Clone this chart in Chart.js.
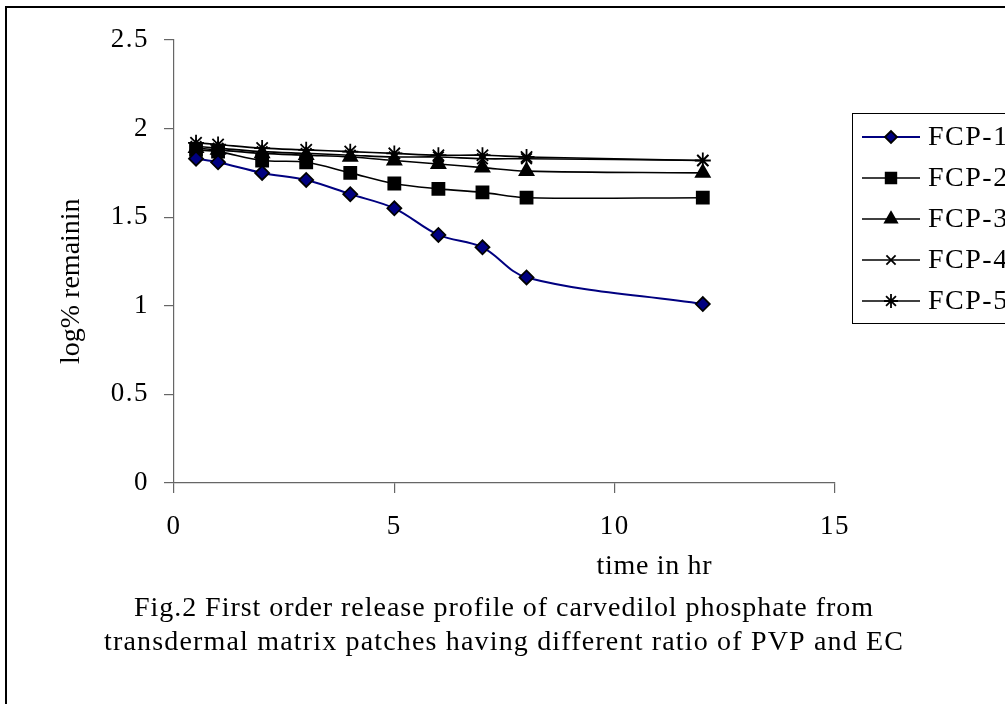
<!DOCTYPE html>
<html>
<head>
<meta charset="utf-8">
<title>First order release profile</title>
<script src="https://cdn.jsdelivr.net/npm/chart.js"></script>
<style>
  html, body { margin: 0; padding: 0; background: #fff; }
  #wrap { width: 1005px; height: 704px; position: relative; overflow: hidden; }
</style>
</head>
<body>
<div id="wrap"><canvas id="releaseChart" width="1005" height="704"></canvas></div>
<script>
// sampling times (hr)
const times = [0.5, 1, 2, 3, 4, 5, 6, 7, 8, 12];

// log % drug remaining for each formulation
const fcp1 = [1.83, 1.81, 1.75, 1.71, 1.63, 1.55, 1.40, 1.33, 1.16, 1.01];
const fcp2 = [1.88, 1.87, 1.82, 1.81, 1.75, 1.69, 1.66, 1.64, 1.61, 1.61];
const fcp3 = [1.89, 1.88, 1.86, 1.85, 1.84, 1.82, 1.80, 1.78, 1.76, 1.75];
const fcp4 = [1.90, 1.89, 1.87, 1.86, 1.85, 1.84, 1.84, 1.83, 1.83, 1.82];
const fcp5 = [1.92, 1.91, 1.89, 1.88, 1.87, 1.86, 1.85, 1.85, 1.84, 1.82];

const seriesNames = ['FCP-1', 'FCP-2', 'FCP-3', 'FCP-4', 'FCP-5'];
const xTicks = [0, 5, 10, 15];
const yTicks = [0, 0.5, 1, 1.5, 2, 2.5];

const xTitle = 'time in hr';
const yTitle = 'log% remainin';
const caption = [
    'Fig.2 First order release profile of carvedilol phosphate from',
    'transdermal matrix patches having different ratio of PVP and EC'
];

const FONT = "'Liberation Serif', 'Times New Roman', serif";
const SPACING = '1.5px';

const pts = (ys) => times.map((t, i) => ({ x: t, y: ys[i] }));

const styles = [
    { color: '#000080', fill: '#000080', border: '#000000', pointStyle: 'rectRot', radius: 7, width: 2 },
    { color: '#000000', fill: '#000000', border: '#000000', pointStyle: 'rect', radius: 8.5, width: 1.6 },
    { color: '#000000', fill: '#000000', border: '#000000', pointStyle: 'triangle', radius: 8, width: 1.6 },
    { color: '#000000', fill: '#000000', border: '#000000', pointStyle: 'crossRot', radius: 7.5, width: 1.6 },
    { color: '#000000', fill: '#000000', border: '#000000', pointStyle: 'star', radius: 8, width: 1.6 }
];

const values = [fcp1, fcp2, fcp3, fcp4, fcp5];

const datasets = values.map((ys, i) => ({
    label: seriesNames[i],
    data: pts(ys),
    borderColor: styles[i].color,
    borderWidth: styles[i].width,
    backgroundColor: styles[i].fill,
    pointStyle: styles[i].pointStyle,
    pointRadius: styles[i].radius,
    pointHoverRadius: styles[i].radius,
    pointBackgroundColor: styles[i].fill,
    pointBorderColor: styles[i].border,
    pointBorderWidth: 1.8,
    tension: 0.35,
    fill: false
}));

// spread a line of text so it fills the given width, centred on cx
function spreadText(ctx, text, cx, y, width) {
    ctx.letterSpacing = '0px';
    const natural = ctx.measureText(text).width;
    const gap = Math.max(0, (width - natural) / (text.length - 1));
    ctx.letterSpacing = gap + 'px';
    ctx.textAlign = 'left';
    ctx.fillText(text, cx - width / 2, y);
}

// wider tracking for the tick labels
const tracking = {
    id: 'tracking',
    beforeDraw(chart) { chart.ctx.letterSpacing = SPACING; }
};

// frame, legend box, axis titles and the figure caption
const decorations = {
    id: 'decorations',
    afterDraw(chart) {
        const ctx = chart.ctx;
        ctx.save();

        // outer frame
        ctx.strokeStyle = '#000';
        ctx.lineWidth = 2;
        ctx.strokeRect(6, 7, 1100, 800);

        // legend
        const lx = 852, ly = 113, step = 41;
        ctx.lineWidth = 1;
        ctx.strokeRect(lx + 0.5, ly + 0.5, 300, 210);
        ctx.font = '28px ' + FONT;
        ctx.letterSpacing = '1.5px';
        ctx.textBaseline = 'middle';
        ctx.textAlign = 'left';
        datasets.forEach((ds, i) => {
            const y = ly + 24 + i * step;
            ctx.strokeStyle = ds.borderColor;
            ctx.lineWidth = ds.borderWidth;
            ctx.beginPath();
            ctx.moveTo(862, y);
            ctx.lineTo(920, y);
            ctx.stroke();
            ctx.fillStyle = ds.pointBackgroundColor;
            ctx.strokeStyle = ds.pointBorderColor;
            ctx.lineWidth = ds.pointBorderWidth;
            Chart.helpers.drawPoint(ctx, {
                pointStyle: ds.pointStyle,
                radius: ds.pointRadius - 1,
                rotation: 0,
                borderWidth: ds.pointBorderWidth
            }, 891, y);
            ctx.fillStyle = '#000';
            ctx.fillText(ds.label, 928, y + 1);
        });

        // axis titles
        ctx.fillStyle = '#000';
        ctx.font = '28px ' + FONT;
        spreadText(ctx, xTitle, 654, 567, 115);

        ctx.save();
        ctx.translate(72, 285);
        ctx.rotate(-Math.PI / 2);
        spreadText(ctx, yTitle, 0, 0, 158);
        ctx.restore();

        // caption
        spreadText(ctx, caption[0], 503.5, 609, 739);
        spreadText(ctx, caption[1], 503.5, 643, 799);

        ctx.restore();
    }
};

const ctx = document.getElementById('releaseChart').getContext('2d');
const releaseChart = new Chart(ctx, {
    type: 'line',
    data: { datasets: datasets },
    options: {
        responsive: false,
        animation: false,
        devicePixelRatio: 1,
        layout: { padding: { top: 40, right: 170, bottom: 0, left: 0 } },
        scales: {
            x: {
                type: 'linear',
                min: 0,
                max: 15,
                afterFit(scale) { scale.height = 221; },
                afterBuildTicks(scale) { scale.ticks = xTicks.map(v => ({ value: v })); },
                grid: { drawOnChartArea: false, drawTicks: true, tickLength: 10, color: '#666', lineWidth: 1.2 },
                border: { display: true, color: '#666', width: 1.2 },
                ticks: {
                    color: '#000',
                    padding: 18,
                    maxRotation: 0,
                    font: { family: FONT, size: 27 },
                    callback: (v) => String(v)
                }
            },
            y: {
                type: 'linear',
                min: 0,
                max: 2.5,
                afterFit(scale) { scale.width = 174; },
                afterBuildTicks(scale) { scale.ticks = yTicks.map(v => ({ value: v })); },
                grid: { drawOnChartArea: false, drawTicks: true, tickLength: 10, color: '#666', lineWidth: 1.2 },
                border: { display: true, color: '#666', width: 1.2 },
                ticks: {
                    color: '#000',
                    padding: 15,
                    font: { family: FONT, size: 27 },
                    callback: (v) => String(v)
                }
            }
        },
        plugins: {
            legend: { display: false },
            tooltip: { enabled: false },
            title: { display: false }
        }
    },
    plugins: [tracking, decorations]
});
</script>
</body>
</html>
